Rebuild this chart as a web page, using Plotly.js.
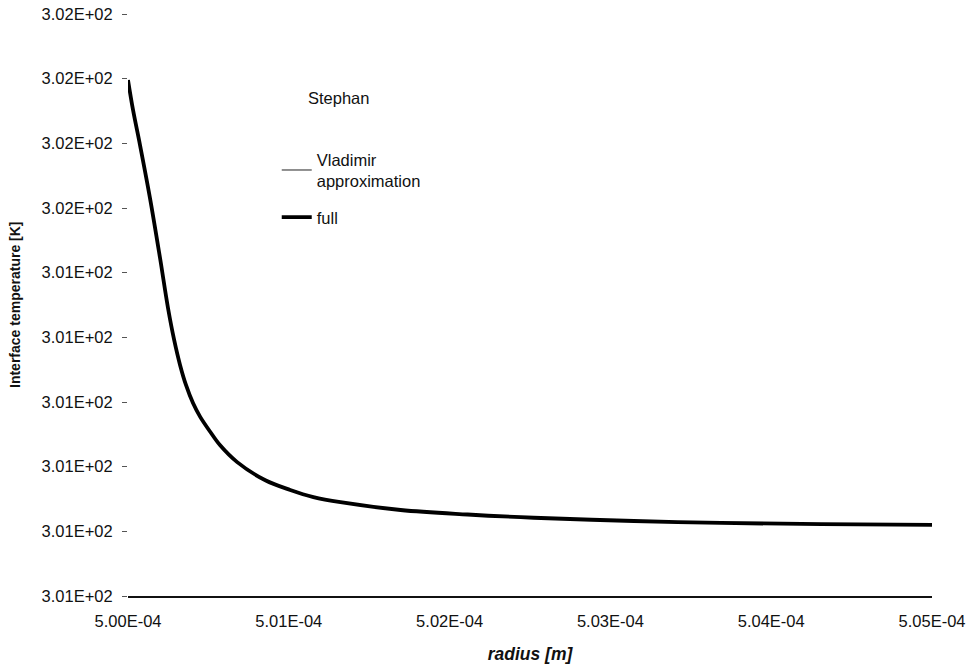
<!DOCTYPE html>
<html>
<head>
<meta charset="utf-8">
<script src="https://cdn.plot.ly/plotly-3.0.1.min.js"></script>
<style>
  html, body { margin: 0; padding: 0; background: #fff; }
  #chart { width: 975px; height: 669px; }
</style>
</head>
<body>
<div id="chart"></div>
<script>
// Bubble radius [m]
const radius = [
  5.00000e-4, 5.00031e-4, 5.00075e-4, 5.00137e-4, 5.00199e-4, 5.00249e-4,
  5.00287e-4, 5.00324e-4, 5.00361e-4, 5.00405e-4, 5.00449e-4, 5.00511e-4,
  5.00573e-4, 5.00679e-4, 5.00854e-4, 5.01009e-4, 5.01153e-4, 5.01321e-4,
  5.01695e-4, 5.02112e-4, 5.02523e-4, 5.03146e-4, 5.03688e-4, 5.04312e-4,
  5.05000e-4
];

// Interface temperature [K], full model
const tempFull = [
  301.698, 301.652, 301.597, 301.515, 301.423, 301.345,
  301.296, 301.257, 301.226, 301.198, 301.177, 301.154,
  301.133, 301.107, 301.079, 301.064, 301.053, 301.045,
  301.033, 301.026, 301.021, 301.016, 301.013, 301.011,
  301.010
];

// Interface temperature [K], Vladimir approximation
const tempApprox = [
  301.698, 301.652, 301.597, 301.515, 301.423, 301.345,
  301.296, 301.257, 301.226, 301.198, 301.177, 301.154,
  301.133, 301.107, 301.079, 301.064, 301.053, 301.045,
  301.033, 301.026, 301.021, 301.016, 301.013, 301.011,
  301.010
];

// Axis tick positions
const yTicks = [300.9, 301.0, 301.1, 301.2, 301.3, 301.4, 301.5, 301.6, 301.7, 301.8];
const xTicks = [5.00e-4, 5.01e-4, 5.02e-4, 5.03e-4, 5.04e-4, 5.05e-4];

// Spreadsheet-style scientific notation: 3.01E+02, 5.00E-04
function sci(v) {
  const s = v.toExponential(2).toUpperCase();
  const m = s.match(/^(.*)E([+-])(\d+)$/);
  return m[1] + 'E' + m[2] + (m[3].length < 2 ? '0' + m[3] : m[3]);
}

const font = 'Liberation Sans, Arial, sans-serif';
const ink = '#111';

// The thin approximation line goes underneath the thick full-model line
const traces = [
  {
    x: radius, y: tempApprox, name: 'Vladimir<br>approximation',
    legendgroup: 'a', legendrank: 1,
    type: 'scatter', mode: 'lines',
    line: { color: '#222', width: 1, shape: 'spline', smoothing: 1 }
  },
  {
    x: radius, y: tempFull, name: 'full',
    legendgroup: 'b', legendrank: 2,
    type: 'scatter', mode: 'lines',
    line: { color: '#000', width: 3.8, shape: 'spline', smoothing: 1 }
  }
];

const layout = {
  width: 975, height: 669,
  margin: { l: 128, r: 43, t: 14, b: 73 },
  paper_bgcolor: '#fff', plot_bgcolor: '#fff',
  font: { family: font, color: ink, size: 16.5 },
  showlegend: true,
  legend: {
    x: 0.185, y: 0.78, xanchor: 'left', yanchor: 'top',
    bgcolor: 'rgba(0,0,0,0)',
    font: { family: font, size: 16.5, color: ink },
    itemwidth: 30, traceorder: 'grouped', tracegroupgap: 12
  },
  annotations: [
    {
      text: 'Stephan', xref: 'paper', yref: 'paper',
      x: (306 - 128) / 804, y: (596 - 98) / 582,
      xanchor: 'left', yanchor: 'middle', showarrow: false,
      font: { family: font, size: 16.5, color: ink }
    },
    {
      // y-axis title, set close to the page edge
      text: '<b>Interface temperature [K]</b>', xref: 'paper', yref: 'paper',
      x: (15 - 128) / 804, y: 0.5, textangle: -90,
      xanchor: 'center', yanchor: 'middle', showarrow: false,
      font: { family: font, size: 14, color: ink }
    }
  ],
  xaxis: {
    range: [5.00e-4, 5.05e-4],
    tickvals: xTicks, ticktext: xTicks.map(sci),
    showgrid: false, zeroline: false,
    showline: true, linecolor: ink, linewidth: 1.5,
    ticks: '', ticklabelstandoff: 10,
    tickfont: { family: font, size: 16.5, color: ink },
    title: { text: '<b><i>radius [m]</i></b>', font: { family: font, size: 17.5, color: ink }, standoff: 18 }
  },
  yaxis: {
    range: [300.9, 301.8],
    tickvals: yTicks, ticktext: yTicks.map(sci),
    showgrid: false, zeroline: false, showline: false,
    ticks: 'outside', ticklen: 5, tickcolor: '#555', tickwidth: 1,
    ticklabelstandoff: 6,
    tickfont: { family: font, size: 16.5, color: ink }
  }
};

Plotly.newPlot('chart', traces, layout, { displayModeBar: false, staticPlot: true });
</script>
</body>
</html>
